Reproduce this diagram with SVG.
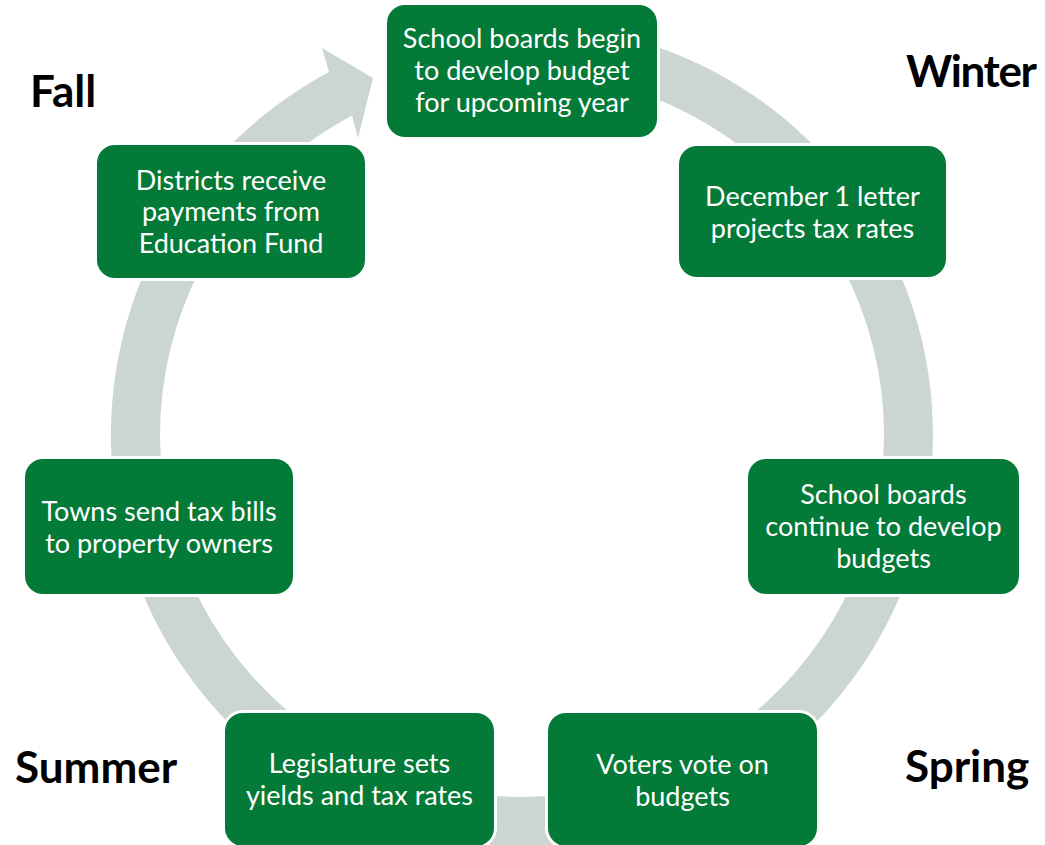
<svg xmlns="http://www.w3.org/2000/svg" width="1045" height="845" viewBox="0 0 1045 845">
  <style>
    .box { fill: #037a37; stroke: #ffffff; stroke-width: 6; paint-order: stroke; }
    .label { font-family: Lato, "Liberation Sans", sans-serif; font-size: 27px; fill: #ffffff; text-anchor: middle; }
    .season { font-family: Lato, "Liberation Sans", sans-serif; font-size: 44px; font-weight: bold; fill: #000000; }
    .ring { fill: #cad6cf; }
  </style>

  <rect width="1045" height="845" fill="#ffffff"/>

  <!-- circular arrow running clockwise behind the boxes -->
  <g id="connectors">
    <path class="ring" d="M 522 24 A 411 411 0 1 1 329 72.1 L 322 48 L 373 78 L 358 138 L 352 115.4 A 362 362 0 1 0 522 73 Z"/>
  </g>

  <g id="node-budget-begin">
    <rect class="box" x="387" y="5" width="270" height="132" rx="18"/>
    <text class="label" x="522" y="48">School boards begin</text>
    <text class="label" x="522" y="80">to develop budget</text>
    <text class="label" x="522" y="112">for upcoming year</text>
  </g>

  <g id="node-december">
    <rect class="box" x="679" y="146" width="267" height="131" rx="18"/>
    <text class="label" x="812.5" y="206">December 1 letter</text>
    <text class="label" x="812.5" y="238">projects tax rates</text>
  </g>

  <g id="node-budget-continue">
    <rect class="box" x="748" y="459" width="271" height="135" rx="18"/>
    <text class="label" x="883.5" y="504">School boards</text>
    <text class="label" x="883.5" y="536">continue to develop</text>
    <text class="label" x="883.5" y="568">budgets</text>
  </g>

  <g id="node-vote">
    <rect class="box" x="548" y="713" width="269" height="133" rx="18"/>
    <text class="label" x="682.5" y="774">Voters vote on</text>
    <text class="label" x="682.5" y="806">budgets</text>
  </g>

  <g id="node-legislature">
    <rect class="box" x="225" y="713" width="269" height="133" rx="18"/>
    <text class="label" x="359.5" y="773">Legislature sets</text>
    <text class="label" x="359.5" y="805">yields and tax rates</text>
  </g>

  <g id="node-tax-bills">
    <rect class="box" x="25" y="459" width="268" height="135" rx="18"/>
    <text class="label" x="159" y="521">Towns send tax bills</text>
    <text class="label" x="159" y="553">to property owners</text>
  </g>

  <g id="node-payments">
    <rect class="box" x="97" y="145" width="268" height="133" rx="18"/>
    <text class="label" x="231" y="190">Districts receive</text>
    <text class="label" x="231" y="221">payments from</text>
    <text class="label" x="231" y="253">Education Fund</text>
  </g>

  <g id="seasons">
    <text class="season" x="30" y="107">Fall</text>
    <text class="season" x="906" y="87" textLength="131">Winter</text>
    <text class="season" x="905" y="782">Spring</text>
    <text class="season" x="15" y="783">Summer</text>
  </g>
</svg>
